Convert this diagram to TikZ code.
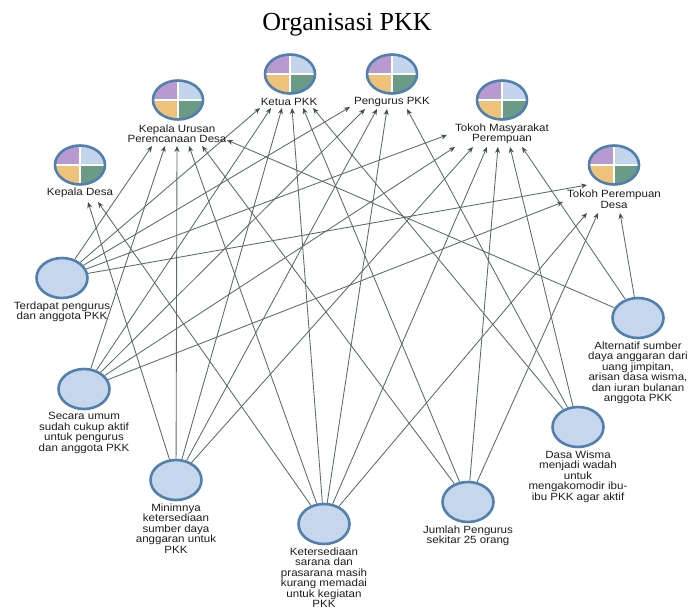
\documentclass[tikz,border=0pt]{standalone}
\usepackage{fontspec}
\newfontfamily\labfont[FakeStretch=1.1]{Liberation Sans}
\newfontfamily\titlefont{Liberation Serif}
\usetikzlibrary{shapes.geometric,arrows.meta,calc,backgrounds}
\definecolor{edgec}{HTML}{5A6A6A}
\definecolor{tipc}{HTML}{3F5050}
\definecolor{txtc}{HTML}{1E1E1E}
\definecolor{codefill}{HTML}{C6D6EC}
\definecolor{codeborder}{HTML}{5280AE}
\definecolor{qpur}{HTML}{B79AD0}
\definecolor{qblu}{HTML}{C3D5EC}
\definecolor{qyel}{HTML}{EFC27A}
\definecolor{qgrn}{HTML}{6B9B86}
\begin{document}
\begin{tikzpicture}[x=1pt,y=-1pt,
  lbl/.style={font=\labfont\fontsize{10.5}{10.5}\selectfont, align=center, inner sep=0pt, text=txtc},
  code/.style={ellipse, minimum width=51pt, minimum height=40pt, inner sep=0pt,
    fill=codefill, draw=codeborder, line width=2.6pt,
    label={[lbl,label distance=2pt]below:{#1}}},
  casel/.style={lbl, inner sep=1pt},
  link/.style={draw=edgec, line width=0.85pt, -{Stealth[length=6pt,width=5pt,color=tipc]}},
  icon/.pic={
    \begin{scope}
      \clip (0,0) ellipse [x radius=25pt, y radius=19.5pt];
      \fill[qpur] (0,0) rectangle (-26,-21);
      \fill[qblu] (0,0) rectangle (26,-21);
      \fill[qyel] (0,0) rectangle (-26,21);
      \fill[qgrn] (0,0) rectangle (26,21);
      \draw[white, line width=2.2pt] (-26,0) -- (26,0) (0,-21) -- (0,21);
    \end{scope}
    \draw[codeborder, line width=2.6pt] (0,0) ellipse [x radius=25pt, y radius=19.5pt];
  }
]
\useasboundingbox (0,0) rectangle (691,609);

% title
\node[anchor=base, font=\titlefont\fontsize{26}{28}\selectfont, inner sep=0pt] (title) at (347,31) {Organisasi PKK};

% case icons
\pic at (80,165) {icon};
\pic at (178,100) {icon};
\pic at (290,74) {icon};
\pic at (392,74) {icon};
\pic at (502,100) {icon};
\pic at (614,165) {icon};

% case labels
\node[casel] (kd) at (80,193) {Kepala Desa};
\node[casel] (ku) at (177,134) {Kepala Urusan\\Perencanaan Desa};
\node[casel] (kp) at (289,102) {Ketua PKK};
\node[casel] (pp) at (392,102) {Pengurus PKK};
\node[casel] (tm) at (502,134) {Tokoh Masyarakat\\Perempuan};
\node[casel] (tp) at (614,199) {Tokoh Perempuan\\Desa};

% codes
\node[code={Terdapat pengurus\\dan anggota PKK}] (T) at (62,278) {};
\node[code={Secara umum\\sudah cukup aktif\\untuk pengurus\\dan anggota PKK}] (S) at (84,389) {};
\node[code={Minimnya\\ketersediaan\\sumber daya\\anggaran untuk\\PKK}] (M) at (176,480) {};
\node[code={Ketersediaan\\sarana dan\\prasarana masih\\kurang memadai\\untuk kegiatan\\PKK}] (K) at (324,524) {};
\node[code={Jumlah Pengurus\\sekitar 25 orang}] (J) at (468,502) {};
\node[code={Dasa Wisma\\menjadi wadah\\untuk\\mengakomodir ibu-\\ibu PKK agar aktif}] (D) at (578,427) {};
\node[code={Alternatif sumber\\daya anggaran dari\\uang jimpitan,\\arisan dasa wisma,\\dan iuran bulanan\\anggota PKK}] (A) at (638,318) {};

\begin{scope}[on background layer]
  \fill[white] (0,0) rectangle (691,609);
  % Terdapat
  \draw[link] (T) -- ($(ku.center)+(-25,12)$);
  \draw[link] (T) -- ($(kp.center)+(-29,6)$);
  \draw[link] (T) -- ($(pp.center)+(-42,5)$);
  \draw[link] (T) -- ($(tm.center)+(-55,1)$);
  \draw[link] (T) -- ($(tp.center)+(-27,-14)$);
  % Secara umum
  \draw[link] (S) -- ($(ku.center)+(-12,12)$);
  \draw[link] (S) -- ($(kp.center)+(-18,6)$);
  \draw[link] (S) -- ($(pp.center)+(-27,7)$);
  \draw[link] (S) -- ($(tm.center)+(-47,13)$);
  \draw[link] (S) -- ($(tp.center)+(-51,3)$);
  % Minimnya
  \draw[link] (M) -- ($(kd.center)+(8,9)$);
  \draw[link] (M) -- ($(ku.center)+(0,12)$);
  \draw[link] (M) -- ($(kp.center)+(-7,6)$);
  \draw[link] (M) -- ($(pp.center)+(-15,7)$);
  \draw[link] (M) -- ($(tm.center)+(-29,13)$);
  % Ketersediaan
  \draw[link] (K) -- ($(kd.center)+(18,9)$);
  \draw[link] (K) -- ($(ku.center)+(12,12)$);
  \draw[link] (K) -- ($(kp.center)+(3,6)$);
  \draw[link] (K) -- ($(pp.center)+(-5,7)$);
  \draw[link] (K) -- ($(tm.center)+(-15,13)$);
  \draw[link] (K) -- ($(tp.center)+(-27,14)$);
  % Jumlah
  \draw[link] (J) -- ($(ku.center)+(25,12)$);
  \draw[link] (J) -- ($(kp.center)+(14,6)$);
  \draw[link] (J) -- ($(tm.center)+(-4,13)$);
  \draw[link] (J) -- ($(tp.center)+(-16,14)$);
  % Dasa Wisma
  \draw[link] (D) -- ($(kp.center)+(24,6)$);
  \draw[link] (D) -- ($(pp.center)+(15,7)$);
  \draw[link] (D) -- ($(tm.center)+(8,13)$);
  % Alternatif
  \draw[link] (A) -- ($(ku.center)+(50,6)$);
  \draw[link] (A) -- ($(tm.center)+(20,13)$);
  \draw[link] (A) -- ($(tp.center)+(6,14)$);
\end{scope}
\end{tikzpicture}
\end{document}
